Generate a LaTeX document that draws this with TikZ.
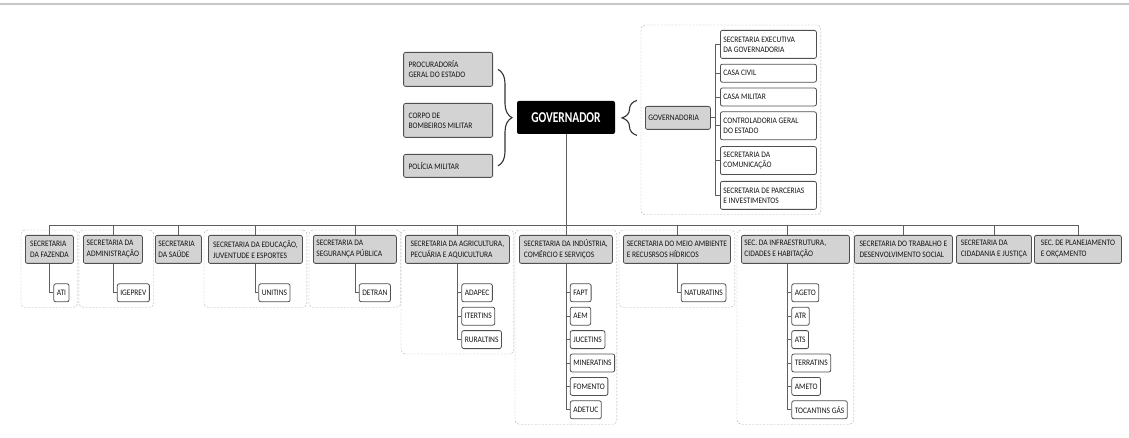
\documentclass[tikz,border=0pt]{standalone}
\usepackage{fontspec}
\setmainfont{Carlito}[FakeStretch=0.89]
\newfontfamily\govfont{Carlito}[FakeStretch=0.76]
\usepackage{tikz}
\usetikzlibrary{positioning,calc,fit,decorations.pathreplacing}
\definecolor{boxgray}{RGB}{211,211,211}
\definecolor{edgegray}{RGB}{80,80,80}
\definecolor{dashgray}{RGB}{172,172,172}
\definecolor{linegray}{RGB}{95,95,95}
\definecolor{rulegray}{RGB}{200,200,200}

\begin{document}
\begin{tikzpicture}[
  x=1pt, y=-1pt,
  font=\fontsize{8.4}{11}\selectfont,
  secbox/.style={draw=edgegray, fill=boxgray, rounded corners=2pt, line width=0.8pt, align=flush left, inner xsep=2pt, inner ysep=0pt, minimum height=28pt, anchor=north west, text=black!92},
  tight/.style={font=\fontsize{8.4}{10}\selectfont},
  itembox/.style={draw=edgegray, fill=white, rounded corners=2pt, line width=0.8pt, align=flush left, text width=90pt, inner xsep=3pt, inner ysep=0pt, anchor=north west, text=black!92, tight},
  subbox/.style={draw=edgegray, fill=white, rounded corners=2pt, line width=0.8pt, inner xsep=3pt, inner ysep=0pt, minimum height=18pt, anchor=west, text=black!92},
  group/.style={draw=dashgray, dash pattern=on 2pt off 1.5pt, rounded corners=4pt, inner xsep=4pt, inner ysep=5pt},
  link/.style={draw=linegray, line width=0.8pt},
  curly/.style={decorate, decoration={brace, amplitude=#1}, draw=black!80, line width=1.1pt}
]
\useasboundingbox (0,0) rectangle (1129,438);
\draw[rulegray, line width=1.5pt] (0,4) -- (1129,4);

% governador and the bodies beside it
\node[fill=black, rounded corners=2pt, text=white, minimum width=98pt, minimum height=33pt, font=\govfont\bfseries\fontsize{15}{15}\selectfont] (gov) at (566,117.5) {GOVERNADOR};
\node[secbox, tight, inner xsep=5pt, text width=79pt, minimum height=34pt, anchor=north east] (proc) at (493,52) {PROCURADORÍA\\GERAL DO ESTADO};
\node[secbox, tight, inner xsep=5pt, text width=79pt, minimum height=34pt, anchor=north east] (bomb) at (493,103) {CORPO DE\\BOMBEIROS MILITAR};
\node[secbox, tight, inner xsep=5pt, text width=79pt, minimum height=23pt, anchor=north east] (pol) at (493,154) {POLÍCIA MILITAR};
\draw[curly=14pt] ($(proc.east)+(5,0)$) -- ($(pol.east)+(5,0)$);

% governadoria
\node[secbox, inner xsep=3pt, text width=59pt, minimum height=23pt] (govd) at (645,106) {GOVERNADORIA};
\draw[curly=15pt] ($(govd.west)+(-8,17.5)$) -- ($(govd.west)+(-8,-17.5)$);
\node[itembox, minimum height=28pt] (sexec) at (720,30) {SECRETARIA EXECUTIVA\\DA GOVERNADORIA};
\node[itembox, minimum height=18pt, below=5pt of sexec.south west, anchor=north west] (civil) {CASA CIVIL};
\node[itembox, minimum height=18pt, below=5pt of civil.south west, anchor=north west] (milit) {CASA MILITAR};
\node[itembox, minimum height=28pt, below=5pt of milit.south west, anchor=north west] (contr) {CONTROLADORIA GERAL\\DO ESTADO};
\node[itembox, minimum height=28pt, below=6pt of contr.south west, anchor=north west] (comun) {SECRETARIA DA\\COMUNICAÇÃO};
\node[itembox, minimum height=28pt, below=6pt of comun.south west, anchor=north west] (parc) {SECRETARIA DE PARCERIAS\\E INVESTIMENTOS};
\coordinate (hub) at ($(govd.east)+(5,0)$);
\draw[link] (govd.east) -- (hub);
\draw[link] (hub) |- (sexec.west);
\draw[link] (hub) |- (civil.west);
\draw[link] (hub) |- (milit.west);
\draw[link] (hub) |- (contr.west);
\draw[link] (hub) |- (comun.west);
\draw[link] (hub) |- (parc.west);
\node[group, fit=(govd)(sexec)(parc)] (govdgrp) {};

% secretarias
\node[secbox, minimum width=48pt] (faz) at (25,235) {SECRETARIA\\DA FAZENDA};
\node[secbox, minimum width=59pt] (adm) at (83,235) {SECRETARIA DA\\ADMINISTRAÇÃO};
\node[secbox, inner xsep=3pt, text width=40pt] (sau) at (155,235) {SECRETARIA\\DA SAÚDE};
\node[secbox, minimum width=94pt] (edu) at (208,235) {SECRETARIA DA EDUCAÇÃO,\\JUVENTUDE E ESPORTES};
\node[secbox, inner xsep=3pt, text width=77pt] (seg) at (313,235) {SECRETARIA DA\\SEGURANÇA PÚBLICA};
\node[secbox, minimum width=104pt] (agr) at (405,235) {SECRETARIA DA AGRICULTURA,\\PECUÁRIA E AQUICULTURA};
\node[secbox, minimum width=93pt] (ind) at (519,235) {SECRETARIA DA INDÚSTRIA,\\COMÉRCIO E SERVIÇOS};
\node[secbox, minimum width=107pt] (mei) at (623,235) {SECRETARIA DO MEIO AMBIENTE\\E RECUSRSOS HÍDRICOS};
\node[secbox, inner xsep=3pt, text width=102pt] (inf) at (741,235) {SEC. DA INFRAESTRUTURA,\\CIDADES E HABITAÇÃO};
\node[secbox, minimum width=98pt] (tra) at (854,235) {SECRETARIA DO TRABALHO E\\DESENVOLVIMENTO SOCIAL};
\node[secbox, minimum width=75pt] (cid) at (956,235) {SECRETARIA DA\\CIDADANIA E JUSTIÇA};
\node[secbox, minimum width=87pt] (pla) at (1034,235) {SEC. DE PLANEJAMENTO\\E ORÇAMENTO};
\coordinate (inftop) at ([xshift=-8pt]inf.north);
\coordinate (infbot) at ([xshift=-8pt]inf.south);

% bus
\coordinate (busy) at (0,225);
\draw[link] (gov.south) -- (gov.south |- busy);
\draw[link] (faz.north |- busy) -- (pla.north |- busy);
\draw[link] (faz.north) -- (faz.north |- busy);
\draw[link] (adm.north) -- (adm.north |- busy);
\draw[link] (sau.north) -- (sau.north |- busy);
\draw[link] (edu.north) -- (edu.north |- busy);
\draw[link] (seg.north) -- (seg.north |- busy);
\draw[link] (agr.north) -- (agr.north |- busy);
\draw[link] (ind.north) -- (ind.north |- busy);
\draw[link] (mei.north) -- (mei.north |- busy);
\draw[link] (inftop) -- (inftop |- busy);
\draw[link] (tra.north) -- (tra.north |- busy);
\draw[link] (cid.north) -- (cid.north |- busy);
\draw[link] (pla.north) -- (pla.north |- busy);

% vinculadas
\node[subbox] (ati) at ($(faz.south)+(4,29)$) {ATI};
\node[subbox] (igeprev) at ($(adm.south)+(4,29)$) {IGEPREV};
\node[subbox] (unitins) at ($(edu.south)+(3,29)$) {UNITINS};
\node[subbox] (detran) at ($(seg.south)+(4,29)$) {DETRAN};
\node[subbox] (adapec) at ($(agr.south)+(4,29)$) {ADAPEC};
\node[subbox, below=4.6pt of adapec.south west, anchor=north west] (itertins) {ITERTINS};
\node[subbox, below=4.6pt of itertins.south west, anchor=north west] (ruraltins) {RURALTINS};
\node[subbox] (fapt) at ($(ind.south)+(4,29)$) {FAPT};
\node[subbox, below=4.6pt of fapt.south west, anchor=north west] (aem) {AEM};
\node[subbox, below=4.6pt of aem.south west, anchor=north west] (jucetins) {JUCETINS};
\node[subbox, below=4.6pt of jucetins.south west, anchor=north west] (mineratins) {MINERATINS};
\node[subbox, below=4.6pt of mineratins.south west, anchor=north west] (fomento) {FOMENTO};
\node[subbox, below=4.6pt of fomento.south west, anchor=north west] (adetuc) {ADETUC};
\node[subbox] (naturatins) at ($(mei.south)+(4,29)$) {NATURATINS};
\node[subbox] (ageto) at ($(infbot)+(4,29)$) {AGETO};
\node[subbox, below=4.6pt of ageto.south west, anchor=north west] (atr) {ATR};
\node[subbox, below=4.6pt of atr.south west, anchor=north west] (ats) {ATS};
\node[subbox, below=4.6pt of ats.south west, anchor=north west] (terratins) {TERRATINS};
\node[subbox, below=4.6pt of terratins.south west, anchor=north west] (ameto) {AMETO};
\node[subbox, below=4.6pt of ameto.south west, anchor=north west] (tocgas) {TOCANTINS GÁS};

\draw[link] (faz.south) |- (ati.west);
\draw[link] (adm.south) |- (igeprev.west);
\draw[link] (edu.south) |- (unitins.west);
\draw[link] (seg.south) |- (detran.west);
\draw[link] (agr.south) |- (adapec.west);
\draw[link] (agr.south) |- (itertins.west);
\draw[link] (agr.south) |- (ruraltins.west);
\draw[link] (ind.south) |- (fapt.west);
\draw[link] (ind.south) |- (aem.west);
\draw[link] (ind.south) |- (jucetins.west);
\draw[link] (ind.south) |- (mineratins.west);
\draw[link] (ind.south) |- (fomento.west);
\draw[link] (ind.south) |- (adetuc.west);
\draw[link] (mei.south) |- (naturatins.west);
\draw[link] (infbot) |- (ageto.west);
\draw[link] (infbot) |- (atr.west);
\draw[link] (infbot) |- (ats.west);
\draw[link] (infbot) |- (terratins.west);
\draw[link] (infbot) |- (ameto.west);
\draw[link] (infbot) |- (tocgas.west);

% dashed groups
\node[group, fit=(faz)(ati)] (fazgrp) {};
\node[group, fit=(adm)(igeprev)] (admgrp) {};
\node[group, fit=(edu)(unitins)] (edugrp) {};
\node[group, fit=(seg)(detran)] (seggrp) {};
\node[group, fit=(agr)(ruraltins)] (agrgrp) {};
\node[group, fit=(ind)(adetuc)] (indgrp) {};
\node[group, fit=(mei)(naturatins)] (meigrp) {};
\node[group, fit=(inf)(tocgas)] (infgrp) {};
\end{tikzpicture}
\end{document}
